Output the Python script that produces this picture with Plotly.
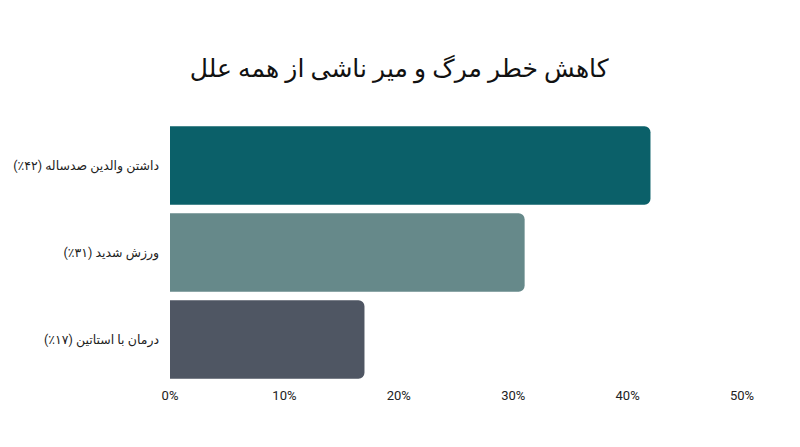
import plotly.graph_objects as go

# Data
categories = ["داشتن والدین صدساله (۴۲٪)", "ورزش شدید (۳۱٪)", "درمان با استاتین (۱۷٪)"]
values = [42, 31, 17]
colors = ["#0b6069", "#66898a", "#4f5663"]
tick_vals = [0, 10, 20, 30, 40, 50]
tick_text = ["0%", "10%", "20%", "30%", "40%", "50%"]

fig = go.Figure(go.Bar(
    x=values,
    y=categories,
    orientation="h",
    marker=dict(color=colors, line=dict(width=0)),
    hoverinfo="skip",
))

fig.update_layout(
    width=800,
    height=447,
    paper_bgcolor="white",
    plot_bgcolor="white",
    font=dict(family="Roboto, Noto Sans, DejaVu Sans", color="#222222"),
    title=dict(
        text="کاهش خطر مرگ و میر ناشی از همه علل",
        x=0.489,
        xanchor="center",
        y=0.866,
        yanchor="middle",
        font=dict(size=25, color="#111111"),
    ),
    margin=dict(l=162, r=66, t=114, b=72),
    bargap=0.1,
    barcornerradius=6,
    showlegend=False,
    xaxis=dict(
        range=[0, 50],
        tickvals=tick_vals,
        ticktext=tick_text,
        showgrid=False,
        zeroline=False,
        showline=False,
        automargin=False,
        ticklabelstandoff=3,
        tickfont=dict(size=13, color="#222222"),
        ticks="",
    ),
    yaxis=dict(
        autorange="reversed",
        showgrid=False,
        zeroline=False,
        showline=False,
        automargin=False,
        ticks="",
        ticklabelstandoff=10,
        tickfont=dict(size=12.5, color="#222222"),
    ),
)

fig.write_html("out.html")
